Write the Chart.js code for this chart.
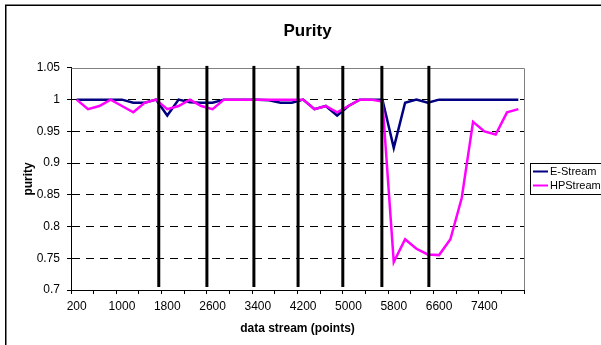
<!DOCTYPE html>
<html>
<head>
<meta charset="utf-8">
<script src="https://cdn.jsdelivr.net/npm/chart.js@4"></script>
<style>
  html, body { margin: 0; padding: 0; background: #fff; }
  #wrap { width: 601px; height: 345px; position: relative; }
</style>
</head>
<body>
<div id="wrap"><canvas id="c" width="601" height="345"></canvas></div>
<script>
// ---- data ----
const categories = [200,400,600,800,1000,1200,1400,1600,1800,2000,2200,2400,2600,2800,3000,3200,3400,3600,3800,4000,
                    4200,4400,4600,4800,5000,5200,5400,5600,5800,6000,6200,6400,6600,6800,7000,7200,7400,7600,7800,8000];
const eStream = [1.0,1.0,1.0,1.0,1.0,0.995,0.995,1.0,0.975,1.0,0.996,0.995,0.995,1.0,1.0,1.0,1.0,0.999,0.995,0.995,
                 1.0,0.985,0.99,0.975,0.99,1.0,1.0,1.0,0.924,0.995,1.0,0.995,1.0,1.0,1.0,1.0,1.0,1.0,1.0,1.0];
const hpStream = [1.0,0.985,0.99,1.0,0.99,0.98,0.995,1.0,0.985,0.99,1.0,0.99,0.985,1.0,1.0,1.0,1.0,1.0,1.0,1.0,
                  1.0,0.985,0.99,0.98,0.99,1.0,1.0,0.997,0.744,0.78,0.765,0.756,0.755,0.78,0.845,0.965,0.95,0.945,0.98,0.985];
const driftPoints = [1650, 2500, 3330, 4110, 4900, 5590, 6420];
const seriesNames = ['E-Stream', 'HPStream'];
const yMin = 0.7, yMax = 1.05, yStep = 0.05;

const FONT = "'Liberation Sans', Arial, Helvetica, sans-serif";

const decorPlugin = {
  id: 'decor',
  beforeDraw(chart) {
    const ctx = chart.ctx;
    ctx.save();
    ctx.fillStyle = '#fff';
    ctx.fillRect(0, 0, chart.width, chart.height);
    // outer chart border (extends past right/bottom edges)
    ctx.strokeStyle = '#000';
    ctx.lineWidth = 1.5;
    ctx.beginPath();
    ctx.moveTo(5.75, chart.height + 5);
    ctx.lineTo(5.75, 5.25);
    ctx.lineTo(chart.width + 5, 5.25);
    ctx.stroke();
    ctx.restore();
  },
  beforeDatasetsDraw(chart) {
    const ctx = chart.ctx, a = chart.chartArea;
    ctx.save();
    ctx.strokeStyle = '#808080';
    ctx.lineWidth = 1;
    ctx.beginPath();
    ctx.moveTo(Math.round(a.left) + 0.5, Math.round(a.top) + 0.5);
    ctx.lineTo(Math.round(a.right) + 0.5, Math.round(a.top) + 0.5);
    ctx.lineTo(Math.round(a.right) + 0.5, Math.round(a.bottom));
    ctx.stroke();
    ctx.restore();
  },
  afterDatasetsDraw(chart) {
    const ctx = chart.ctx, a = chart.chartArea;
    const xs = chart.scales.x;
    const step = categories[1] - categories[0];
    ctx.save();
    ctx.strokeStyle = '#000';
    ctx.lineWidth = 3;
    driftPoints.forEach(v => {
      const px = xs.getPixelForValue((v - categories[0]) / step);
      ctx.beginPath();
      ctx.moveTo(px, a.top - 2);
      ctx.lineTo(px, a.bottom - 3);
      ctx.stroke();
    });
    ctx.restore();
  },
  afterDraw(chart) {
    // legend box
    const ctx = chart.ctx;
    const bx = 530.5, by = 163.5, bw = 90, bh = 31;
    ctx.save();
    ctx.fillStyle = '#fff';
    ctx.fillRect(bx, by, bw, bh);
    ctx.strokeStyle = '#000';
    ctx.lineWidth = 1;
    ctx.strokeRect(bx, by, bw, bh);
    ctx.font = '11px ' + FONT;
    ctx.textBaseline = 'middle';
    ctx.textAlign = 'left';
    chart.data.datasets.forEach((ds, i) => {
      const y = by + 8 + i * 14;
      ctx.strokeStyle = ds.borderColor;
      ctx.lineWidth = 2;
      ctx.beginPath();
      ctx.moveTo(533, y);
      ctx.lineTo(548, y);
      ctx.stroke();
      ctx.fillStyle = '#000';
      ctx.fillText(ds.label, 550, y + 0.5);
    });
    ctx.restore();
  }
};

new Chart(document.getElementById('c'), {
  type: 'line',
  data: {
    labels: categories.map(String),
    datasets: [
      { label: seriesNames[0], data: eStream, borderColor: '#000080', backgroundColor: '#000080',
        borderWidth: 2.5, pointRadius: 0, tension: 0, order: 1, fill: false },
      { label: seriesNames[1], data: hpStream, borderColor: '#FF00FF', backgroundColor: '#FF00FF',
        borderWidth: 2.5, pointRadius: 0, tension: 0, order: 0, fill: false }
    ]
  },
  options: {
    responsive: false,
    animation: false,
    events: [],
    layout: { padding: { left: 14, right: 0, top: 0, bottom: 0 } },
    plugins: {
      legend: { display: false },
      tooltip: { enabled: false },
      title: {
        display: true, text: 'Purity', color: '#000',
        font: { family: FONT, size: 17, weight: 'bold' },
        padding: { top: 21, bottom: 26.5 }
      }
    },
    scales: {
      x: {
        type: 'category',
        offset: true,
        afterFit(s) { s.height = 55; },
        grid: {
          offset: true, drawOnChartArea: false, drawTicks: true, tickLength: 4,
          tickColor: c => (c.index === undefined || c.index % 2 === 0) ? '#000' : 'rgba(0,0,0,0)',
          tickWidth: 1
        },
        border: { display: true, color: '#000', width: 1 },
        ticks: {
          autoSkip: false, maxRotation: 0, minRotation: 0, padding: 5, color: '#000',
          font: { family: FONT, size: 12 },
          callback(v, i) { return i % 4 === 0 ? this.getLabelForValue(v) : ''; }
        },
        title: {
          display: true, text: 'data stream (points)', color: '#000',
          font: { family: FONT, size: 12, weight: 'bold' },
          padding: { top: 0, bottom: 9 }
        }
      },
      y: {
        min: yMin, max: yMax,
        afterFit(s) { s.width = 57; },
        grid: {
          color: c => (c.tick && Math.abs(c.tick.value - yMax) < 1e-6) ? 'rgba(0,0,0,0)' : '#000',
          tickColor: '#000', tickLength: 4, lineWidth: 1
        },
        border: { display: true, color: '#000', width: 1, dash: [8, 6] },
        ticks: {
          stepSize: yStep, padding: 7, color: '#000',
          font: { family: FONT, size: 12 },
          callback: v => String(parseFloat(v.toFixed(2)))
        },
        title: {
          display: true, text: 'purity', color: '#000',
          font: { family: FONT, size: 12, weight: 'bold' },
          padding: { top: 7, bottom: 0 }
        }
      },
      yR: {
        type: 'linear', position: 'right', display: true,
        afterFit(s) { s.width = 77; },
        grid: { display: false, drawOnChartArea: false },
        border: { display: false },
        ticks: { display: false }
      }
    }
  },
  plugins: [decorPlugin]
});
</script>
</body>
</html>
